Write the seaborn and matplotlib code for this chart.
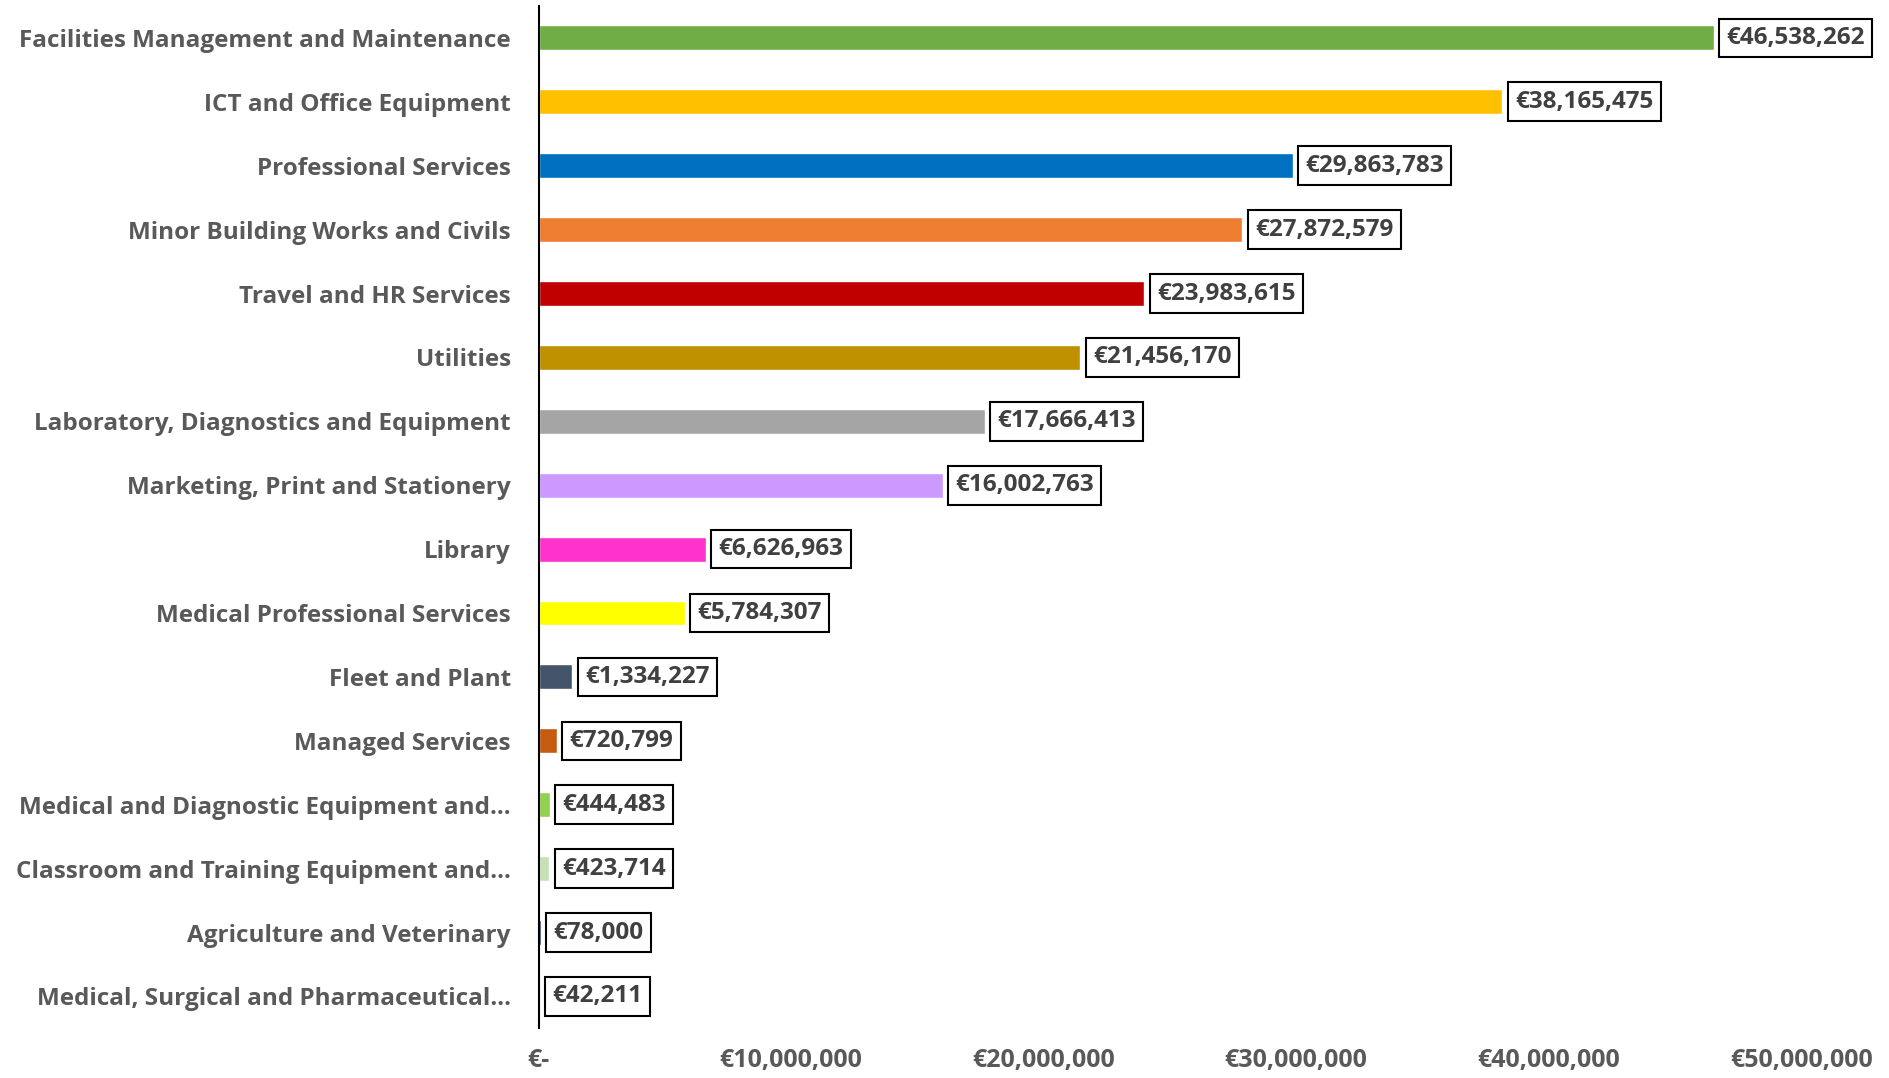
import numpy as np
import pandas as pd
import matplotlib
matplotlib.use('Agg')
import matplotlib.pyplot as plt
from matplotlib.ticker import FuncFormatter
import seaborn as sns

categories = ['Facilities Management and Maintenance', 'ICT and Office Equipment',
              'Professional Services', 'Minor Building Works and Civils',
              'Travel and HR Services', 'Utilities',
              'Laboratory, Diagnostics and Equipment', 'Marketing, Print and Stationery',
              'Library', 'Medical Professional Services', 'Fleet and Plant',
              'Managed Services', 'Medical and Diagnostic Equipment and...',
              'Classroom and Training Equipment and...', 'Agriculture and Veterinary',
              'Medical, Surgical and Pharmaceutical...']
spend = [46538262, 38165475, 29863783, 27872579, 23983615, 21456170, 17666413,
         16002763, 6626963, 5784307, 1334227, 720799, 444483, 423714, 78000, 42211]
colors = ['#70AD47', '#FFC000', '#0070C0', '#ED7D31', '#C00000', '#BF9000',
          '#A5A5A5', '#CC99FF', '#FF33CC', '#FFFF00', '#44546A', '#C55A11',
          '#92D050', '#C5E0B4', '#002060', '#000000']
xticks = [0, 10000000, 20000000, 30000000, 40000000, 50000000]

sns.set_style('white')
plt.rcParams['font.family'] = ['Open Sans', 'DejaVu Sans']

df = pd.DataFrame({'category': categories, 'spend': spend})

fig = plt.figure(figsize=(18.9, 10.78), dpi=100)
ax = fig.add_axes([0.285, 0.046, 0.668, 0.9485])
sns.barplot(data=df, x='spend', y='category', hue='category', palette=colors,
            legend=False, orient='h', width=0.39, saturation=1, ax=ax)

ax.set_xlim(0, 50000000)
ax.set_xticks(xticks)
ax.xaxis.set_major_formatter(FuncFormatter(lambda v, p: '€-' if v == 0 else '€{:,.0f}'.format(v)))
ax.set_xlabel('')
ax.set_ylabel('')
for s in ['top', 'right', 'bottom']:
    ax.spines[s].set_visible(False)
ax.spines['left'].set_color('black')
ax.spines['left'].set_linewidth(1.5)
ax.tick_params(axis='x', length=0, pad=14, labelsize=18, labelcolor='#595959')
ax.tick_params(axis='y', length=0, pad=20, labelsize=17.5, labelcolor='#595959')
for lab in ax.get_xticklabels() + ax.get_yticklabels():
    lab.set_fontweight('bold')

# boxed value labels
for i, v in enumerate(spend):
    ax.text(v + 500000, i, '€{:,.0f}'.format(v), va='center', ha='left',
            fontsize=17.5, fontweight='bold', color='#404040',
            bbox=dict(boxstyle='square,pad=0.3', fc='white', ec='black', lw=1.5))

fig.savefig('out.png', dpi=100)
